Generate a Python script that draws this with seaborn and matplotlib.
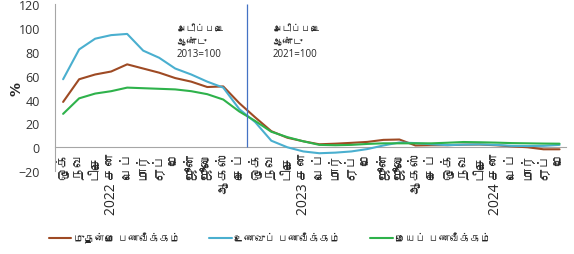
import matplotlib
matplotlib.use("Agg")
import matplotlib.pyplot as plt
from matplotlib import font_manager
from matplotlib.ft2font import FT2Font
import pandas as pd
import seaborn as sns

# month labels (Oct 2021 .. May 2024)
months = ["ஒக்", "நவ", "டிசெ", "2022 சன", "பெப்", "மார்", "ஏப்", "மே", "ஜூன்", "ஜூலை", "ஆகஸ்", "செப்",
          "ஒக்", "நவ", "டிசெ", "2023 சன", "பெப்", "மார்", "ஏப்", "மே", "ஜூன்", "ஜூலை", "ஆகஸ்", "செப்",
          "ஒக்", "நவ", "டிசெ", "2024 சன", "பெப்", "மார்", "ஏப்", "மே"]

headline = [38, 57, 61, 63.5, 69.5, 66, 62.5, 58, 55, 50.5, 51, 37,
            25, 13.5, 8, 5, 2.5, 3, 3.7, 4.5, 6.2, 6.5, 1.5, 1.7,
            1.7, 2.2, 2.3, 1.7, 0.8, 0, -1.7, -1.7]
food = [57, 82, 91, 94, 95, 81, 75, 66, 61, 55, 50, 32,
        21, 5.5, 0, -3.5, -5, -4.5, -3.5, -1.5, 1.5, 4, 3.5, 2.5,
        1.8, 2.2, 2.4, 2, 1.2, 1, 1.2, 2]
core = [28, 41, 45, 47, 50, 49.5, 49, 48.5, 47, 44.5, 40, 30,
        22, 13, 8.5, 5, 2, 1.7, 2, 2.8, 3.3, 3.3, 3.3, 3.3,
        3.8, 4.4, 4.2, 3.9, 3.5, 3.3, 3.1, 3]

series_names = ["முதன்மை பணவீக்கம்", "உணவுப் பணவீக்கம்", "மையப் பணவீக்கம்"]
colors = ["#9E4A24", "#4AAFCF", "#2EB24B"]


def find_tamil_font():
    for f in font_manager.fontManager.ttflist:
        try:
            if 0x0BA4 in FT2Font(f.fname).get_charmap():
                return f.name
        except Exception:
            continue
    return None


sns.set_style("white")
tamil = find_tamil_font()
fams = ["Open Sans", tamil, "DejaVu Sans"] if tamil else ["Open Sans", "DejaVu Sans"]
plt.rcParams["font.family"] = fams

n = len(months)
df = pd.DataFrame({
    "idx": list(range(n)) * 3,
    "value": headline + food + core,
    "series": [series_names[0]] * n + [series_names[1]] * n + [series_names[2]] * n,
})

fig = plt.figure(figsize=(5.74, 2.55), dpi=100)
ax = fig.add_axes([0.096, 0.325, 0.89, 0.655])

sns.lineplot(data=df, x="idx", y="value", hue="series", palette=colors,
             linewidth=1.5, ax=ax, legend=True)

ax.set_xlim(-0.5, n - 0.6)
ax.set_ylim(-20, 120)
ax.set_yticks(range(-20, 121, 20))
ax.set_xticks(range(n))
ax.set_xticklabels(months, fontsize=5, color="#333333")
ax.tick_params(axis="x", length=0, pad=3, labelrotation=90)
ax.tick_params(axis="y", labelsize=9, pad=11, colors="#333333", length=0)
ax.set_xlabel("")
ax.set_ylabel("%", fontsize=10, fontweight="bold", rotation=90,
              family="DejaVu Sans")
ax.yaxis.set_label_coords(-0.062, 0.5)

for s in ["top", "right"]:
    ax.spines[s].set_visible(False)
ax.spines["bottom"].set_position(("data", 0))
ax.spines["bottom"].set_color("#A6A6A6")
ax.spines["left"].set_color("#A6A6A6")
ax.spines["bottom"].set_zorder(0)

# base-year divider
ax.vlines(11.5, 0, 120, color="#4472C4", linewidth=0.9)
ax.text(7.1, 104, "அடிப்படை\nஆண்டு\n2013=100", fontsize=7, va="top", ha="left", linespacing=1.2)
ax.text(13.1, 104, "அடிப்படை\nஆண்டு\n2021=100", fontsize=7, va="top", ha="left", linespacing=1.2)

handles, labels = ax.get_legend_handles_labels()
ax.legend_.remove()
fig.legend(handles, labels, loc="center", bbox_to_anchor=(0.47, 0.06), ncol=3,
           frameon=False, fontsize=7.5, handlelength=2.2, handletextpad=0.2,
           columnspacing=2.8)

fig.savefig("out.png", dpi=100)
